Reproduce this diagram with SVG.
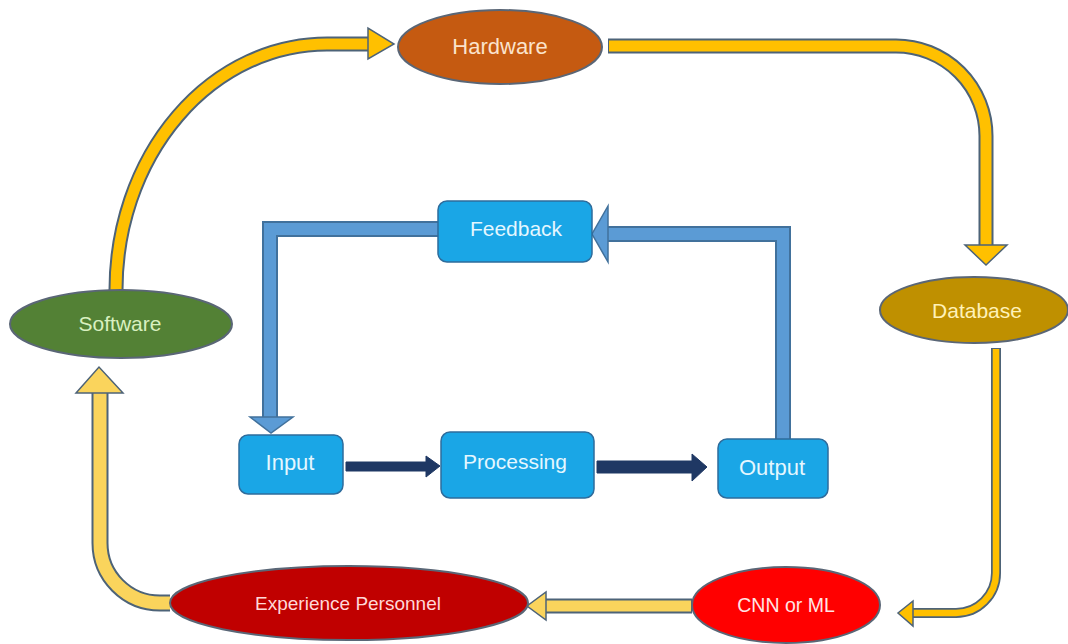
<svg xmlns="http://www.w3.org/2000/svg" width="1068" height="644" viewBox="0 0 1068 644">
<style>
.lbl{font-family:"Liberation Sans",Arial,sans-serif;font-size:21px;text-anchor:middle;dominant-baseline:central}
.ell{stroke:#5a6676;stroke-width:2}
.box{fill:#1AA6E6;stroke:#2E6C9C;stroke-width:1.5}
.yo{fill:none;stroke:#4d6378;stroke-linecap:butt;stroke-linejoin:round}
.yi{fill:none;stroke:#FFC000;stroke-linecap:butt;stroke-linejoin:round}
.yl{fill:none;stroke:#FAD45C;stroke-linecap:butt;stroke-linejoin:round}
.yh{fill:#FFC000;stroke:#4d6378;stroke-width:1.5;stroke-linejoin:miter}
.ylh{fill:#FAD45C;stroke:#4d6378;stroke-width:1.5;stroke-linejoin:miter}
.bo{fill:none;stroke:#41719C;stroke-width:16;stroke-linejoin:miter}
.bi{fill:none;stroke:#5B9BD5;stroke-width:12;stroke-linejoin:miter}
.bh{fill:#5B9BD5;stroke:#41719C;stroke-width:1.5}
.nav{fill:#1F3864;stroke:#1F3864;stroke-width:1}
</style>
<rect width="1068" height="644" fill="#ffffff"/>
<g id="connectors">
  <!-- Software -> Hardware -->
  <path class="yo" stroke-width="15" d="M116 290 A211 246 0 0 1 327 44 L370 44"/>
  <path class="yi" stroke-width="11" d="M116 291 A211 246 0 0 1 327 44 L370 44"/>
  <polygon class="yh" points="368,28 368,59 394,44"/>
  <!-- Hardware -> Database -->
  <path class="yo" stroke-width="15" d="M608 46 L896 46 A90 90 0 0 1 986 136 L986 247"/>
  <path class="yi" stroke-width="11" d="M609 46 L896 46 A90 90 0 0 1 986 136 L986 247"/>
  <polygon class="yh" points="965,245 1007,245 986,265"/>
  <!-- Database -> CNN or ML -->
  <path class="yo" stroke-width="10" d="M996 348 L996 573 A40 40 0 0 1 956 613 L912 613"/>
  <path class="yi" stroke-width="6.5" d="M996 349 L996 573 A40 40 0 0 1 956 613 L912 613"/>
  <polygon class="yh" points="913,601 913,626 898,613"/>
  <!-- CNN or ML -> Experience Personnel -->
  <path class="yo" stroke-width="15" d="M692 606 L544 606"/>
  <path class="yl" stroke-width="11" d="M691 606 L544 606"/>
  <polygon class="ylh" points="546,592 546,620 527,606"/>
  <!-- Experience Personnel -> Software -->
  <path class="yo" stroke-width="17" d="M170 603 L160 603 A60 60 0 0 1 100 543 L100 392"/>
  <path class="yl" stroke-width="13" d="M170 603 L160 603 A60 60 0 0 1 100 543 L100 392"/>
  <polygon class="ylh" points="76,393 123,393 99,367"/>
  <!-- Feedback -> Input -->
  <path class="bo" d="M438 229 L270 229 L270 418"/>
  <path class="bi" d="M439 229 L270 229 L270 418"/>
  <polygon class="bh" points="250,417 293,417 271,433"/>
  <!-- Output -> Feedback -->
  <path class="bo" d="M783 439 L783 234 L606 234"/>
  <path class="bi" d="M783 439 L783 234 L606 234"/>
  <polygon class="bh" points="608,206 608,262 592,234"/>
  <!-- Input -> Processing -->
  <polygon class="nav" points="346,462 426,462 426,456 440,466 426,477 426,471 346,471"/>
  <!-- Processing -> Output -->
  <polygon class="nav" points="597,461 692,461 692,454 707,467 692,481 692,473 597,473"/>
</g>
<g id="hardware">
  <ellipse class="ell" cx="500" cy="47" rx="102" ry="37" fill="#C55A11"/>
  <text class="lbl" x="500" y="46" fill="#FBE3CC" style="font-size:22px">Hardware</text>
</g>
<g id="database">
  <ellipse class="ell" cx="974" cy="310" rx="94" ry="33" fill="#BF9000"/>
  <text class="lbl" x="977" y="310" fill="#FFF2B8">Database</text>
</g>
<g id="software">
  <ellipse class="ell" cx="121" cy="324" rx="111" ry="34" fill="#538135"/>
  <text class="lbl" x="120" y="323" fill="#D9F0C0">Software</text>
</g>
<g id="cnn">
  <ellipse class="ell" cx="786" cy="605" rx="94" ry="38" fill="#FF0000"/>
  <text class="lbl" x="786" y="605" fill="#FFE4E4" style="font-size:19.5px">CNN or ML</text>
</g>
<g id="experience">
  <ellipse class="ell" cx="349" cy="603" rx="179" ry="37" fill="#C00000"/>
  <text class="lbl" x="348" y="603" fill="#FFD8D8" style="font-size:19px">Experience Personnel</text>
</g>
<g id="feedback">
  <rect class="box" x="438" y="201" width="154" height="61" rx="9"/>
  <text class="lbl" x="516" y="228" fill="#E4F7FF">Feedback</text>
</g>
<g id="input">
  <rect class="box" x="239" y="435" width="104" height="59" rx="9"/>
  <text class="lbl" x="290" y="462" fill="#E4F7FF" style="font-size:22px">Input</text>
</g>
<g id="processing">
  <rect class="box" x="441" y="432" width="153" height="66" rx="9"/>
  <text class="lbl" x="515" y="461" fill="#E4F7FF">Processing</text>
</g>
<g id="output">
  <rect class="box" x="718" y="439" width="110" height="59" rx="9"/>
  <text class="lbl" x="772" y="467" fill="#E4F7FF" style="font-size:22px">Output</text>
</g>
</svg>
